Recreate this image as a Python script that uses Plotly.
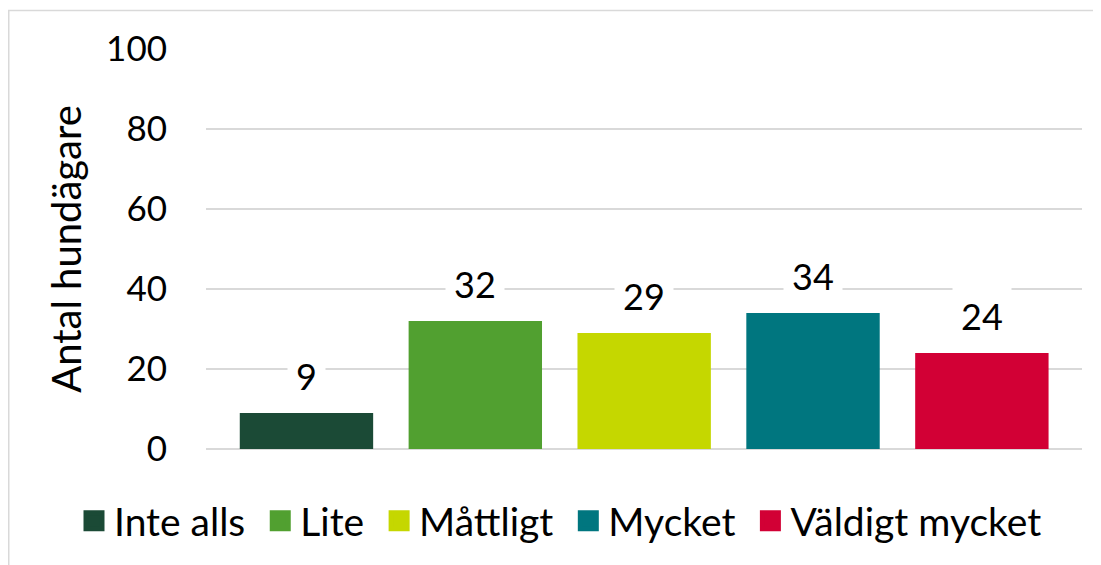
import plotly.graph_objects as go

categories = ["Inte alls", "Lite", "Måttligt", "Mycket", "Väldigt mycket"]
values = [9, 32, 29, 34, 24]
colors = ["#1B4A36", "#51A030", "#C5D700", "#00767F", "#D20035"]
y_ticks = [0, 20, 40, 60, 80, 100]
y_title = "Antal hundägare"

FONT = "Lato, 'Open Sans', sans-serif"
# page body has an 8px margin, so the figure is drawn 8px right/down
W, H = 1093, 557
L, R, T, B = 198, 19, 41, 116
pw, ph = W - L - R, H - T - B

fig = go.Figure()
for i, (cat, val, col) in enumerate(zip(categories, values, colors)):
    fig.add_trace(go.Bar(x=[cat], y=[val], name=cat, width=0.79,
                         marker=dict(color=col, line=dict(width=0)), showlegend=False))
    # legend proxy with larger square marker (a little extra space between entries)
    legend_name = cat + ("\u00a0" if i < len(categories) - 1 else "")
    fig.add_trace(go.Scatter(x=[None], y=[None], mode="markers", name=legend_name,
                             marker=dict(symbol="square", size=24, color=col,
                                         line=dict(color=col, width=6))))
    fig.add_annotation(x=cat, y=val, text=str(val), showarrow=False, yanchor="bottom",
                       yshift=6, bgcolor="white", borderpad=8,
                       font=dict(family=FONT, size=36, color="#000000"))

fig.add_shape(type="rect", xref="paper", yref="paper",
              x0=(0.75 - L) / pw, x1=(W + 5 - L) / pw,
              y0=-(H + 5 - T - ph) / ph, y1=1 + (T - 2.5) / ph,
              line=dict(color="#D9D9D9", width=1.5), fillcolor="rgba(0,0,0,0)", layer="below")

fig.update_layout(
    width=W, height=H,
    margin=dict(l=L, r=R, t=T, b=B, pad=0, autoexpand=False),
    paper_bgcolor="white", plot_bgcolor="white",
    barmode="relative",
    font=dict(family=FONT, size=35, color="#000000"),
    showlegend=True,
    legend=dict(orientation="h", x=(66 - L) / pw, xanchor="left",
                y=-(513 - (T + ph)) / ph, yanchor="middle",
                font=dict(family=FONT, size=39, color="#000000"),
                itemsizing="trace", tracegroupgap=0, itemwidth=30),
    xaxis=dict(showticklabels=False, showgrid=False, zeroline=False, showline=False, ticks="",
               automargin=False, range=[-0.595, len(categories) - 1 + 0.593]),
    yaxis=dict(range=[0, 100], tickvals=y_ticks, showgrid=True, gridcolor="#D9D9D9", gridwidth=1.5,
               zeroline=True, zerolinecolor="#D9D9D9", zerolinewidth=1.5, showline=False,
               ticks="", ticklabelstandoff=38, automargin=False,
               tickfont=dict(family=FONT, size=35, color="#000000"),
               title=dict(text=y_title, standoff=12, font=dict(family=FONT, size=40, color="#000000"))),
)

fig.write_html("out.html")
